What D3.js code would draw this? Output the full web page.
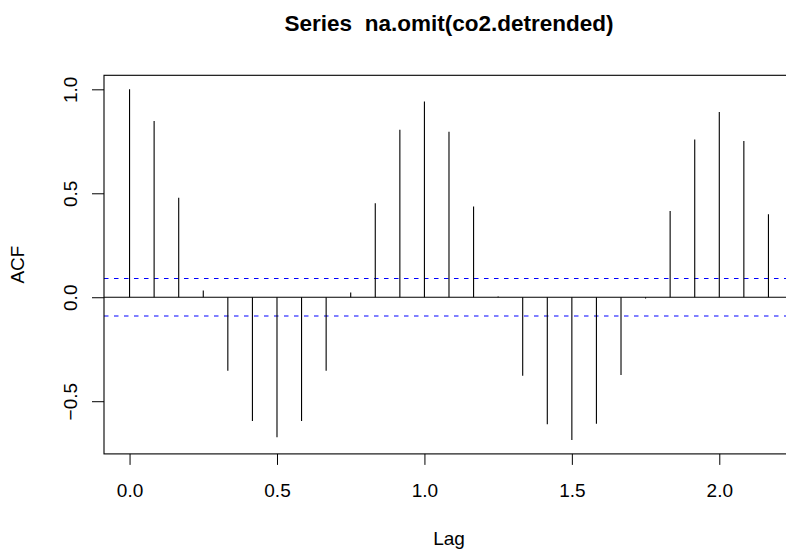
<!DOCTYPE html>
<html>
<head>
<meta charset="utf-8">
<script src="https://cdn.jsdelivr.net/npm/d3@7"></script>
<style>
  body { margin: 0; background: #fff; }
  text { font-family: "Liberation Sans", Arial, sans-serif; fill: #000; }
</style>
</head>
<body>
<div id="chart"></div>
<script>
// Lags (in years, frequency 12) and autocorrelation values
const lags = [0, 0.0833, 0.1667, 0.25, 0.3333, 0.4167, 0.5, 0.5833, 0.6667,
  0.75, 0.8333, 0.9167, 1, 1.0833, 1.1667, 1.25, 1.3333, 1.4167, 1.5,
  1.5833, 1.6667, 1.75, 1.8333, 1.9167, 2, 2.0833, 2.1667];
const acfValues = [1.0, 0.848, 0.479, 0.033, -0.353, -0.595, -0.673, -0.595, -0.354,
  0.023, 0.452, 0.806, 0.942, 0.796, 0.436, 0.004, -0.377, -0.611, -0.686,
  -0.608, -0.374, -0.006, 0.415, 0.759, 0.891, 0.751, 0.399];
const ciLimit = 0.09;
const xTicks = [0, 0.5, 1, 1.5, 2];
const yTicks = [-0.5, 0, 0.5, 1];

const data = lags.map((lag, i) => ({lag: lag, acf: acfValues[i]}));

// Plot region (R-style margins; the right edge runs past the window)
const W = 786, H = 549;
const plot = {left: 104, right: 794, top: 75.3, bottom: 453.9};

const svg = d3.select("#chart")
  .append("svg")
    .attr("width", W)
    .attr("height", H);

// R extends axis ranges by 4%
function pad(ext) {
  const d = (ext[1] - ext[0]) * 0.04;
  return [ext[0] - d, ext[1] + d];
}

const x = d3.scaleLinear()
  .domain(pad(d3.extent(lags)))
  .range([plot.left, plot.right]);

const y = d3.scaleLinear()
  .domain(pad(d3.extent(acfValues.concat([-ciLimit, ciLimit]))))
  .range([plot.bottom, plot.top]);

// Clip for lines drawn inside the plot region
svg.append("clipPath")
    .attr("id", "clip")
  .append("rect")
    .attr("x", plot.left)
    .attr("y", plot.top)
    .attr("width", plot.right - plot.left)
    .attr("height", plot.bottom - plot.top);

// Zero line
svg.append("line")
  .attr("clip-path", "url(#clip)")
  .attr("x1", plot.left).attr("x2", plot.right)
  .attr("y1", y(0)).attr("y2", y(0))
  .attr("stroke", "#000")
  .attr("stroke-width", 1.1);

// Confidence limits
svg.append("g")
  .attr("clip-path", "url(#clip)")
  .selectAll("line")
  .data([ciLimit, -ciLimit])
  .join("line")
    .attr("x1", plot.left).attr("x2", plot.right)
    .attr("y1", d => y(d)).attr("y2", d => y(d))
    .attr("stroke", "#0000ff")
    .attr("stroke-width", 1.1)
    .attr("stroke-dasharray", "4.5,5.5");

// ACF spikes
svg.append("g")
  .selectAll("line")
  .data(data)
  .join("line")
    .attr("x1", d => x(d.lag)).attr("x2", d => x(d.lag))
    .attr("y1", y(0)).attr("y2", d => y(d.acf))
    .attr("stroke", "#000")
    .attr("stroke-width", 1.1);

// Axes
const fmt = d3.format(".1f");

const xAxis = svg.append("g")
  .attr("transform", `translate(0, ${plot.bottom})`)
  .call(d3.axisBottom(x).tickValues(xTicks).tickFormat(fmt).tickSize(11).tickSizeOuter(0));
xAxis.select(".domain").remove();
xAxis.selectAll("text")
  .attr("y", 43)
  .attr("dy", 0)
  .style("font-size", "19px")
  .style("font-family", "'Liberation Sans', Arial, sans-serif");

const yAxis = svg.append("g")
  .attr("transform", `translate(${plot.left}, 0)`)
  .call(d3.axisLeft(y).tickValues(yTicks).tickFormat(fmt).tickSize(12).tickSizeOuter(0));
yAxis.select(".domain").remove();
yAxis.selectAll("text")
  .attr("x", null).attr("dy", null)
  .attr("text-anchor", "middle")
  .attr("transform", "translate(-27, 0) rotate(-90)")
  .style("font-size", "19px")
  .style("font-family", "'Liberation Sans', Arial, sans-serif");

// Box around the plot
svg.append("rect")
  .attr("x", plot.left)
  .attr("y", plot.top)
  .attr("width", plot.right - plot.left)
  .attr("height", plot.bottom - plot.top)
  .attr("fill", "none")
  .attr("stroke", "#000")
  .attr("stroke-width", 1.1);

// Title and axis labels
const midX = (plot.left + plot.right) / 2;

svg.append("text")
  .attr("x", midX)
  .attr("y", 31)
  .attr("text-anchor", "middle")
  .style("font-size", "22.5px")
  .style("font-weight", "bold")
  .style("white-space", "pre")
  .text("Series  na.omit(co2.detrended)");

svg.append("text")
  .attr("x", midX)
  .attr("y", 545)
  .attr("text-anchor", "middle")
  .style("font-size", "19px")
  .text("Lag");

svg.append("text")
  .attr("transform", `translate(24, ${(plot.top + plot.bottom) / 2}) rotate(-90)`)
  .attr("text-anchor", "middle")
  .style("font-size", "19px")
  .text("ACF");
</script>
</body>
</html>
